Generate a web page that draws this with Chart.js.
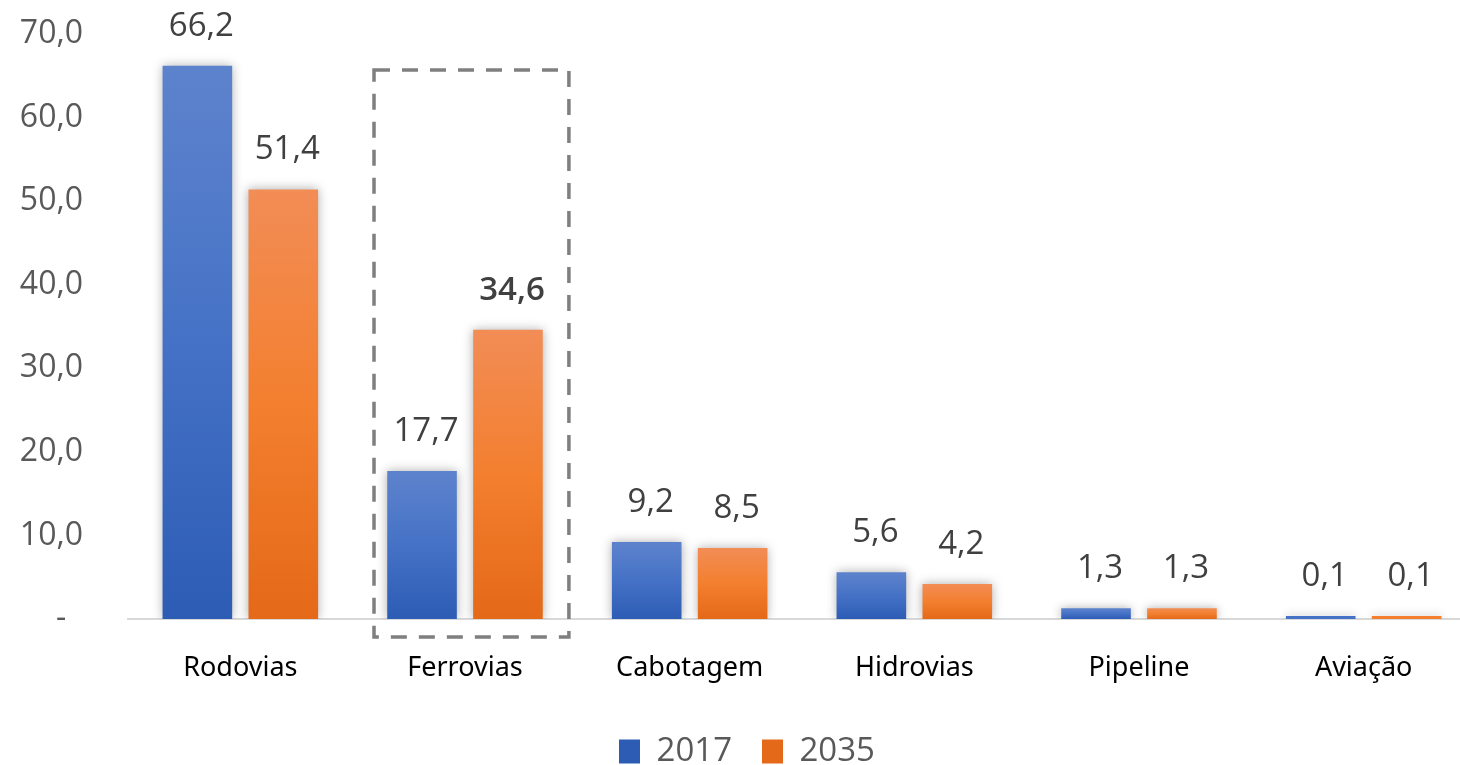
<!DOCTYPE html>
<html>
<head>
<meta charset="utf-8">
<script src="https://cdn.jsdelivr.net/npm/chart.js@4/dist/chart.umd.min.js"></script>
<style>
  html, body { margin: 0; padding: 0; background: #fff; overflow: hidden; }
  #wrap { position: absolute; left: 0; top: 0; width: 1480px; height: 778px; }
</style>
</head>
<body>
<div id="wrap"><canvas id="chart"></canvas></div>
<script>
const categories = ['Rodovias', 'Ferrovias', 'Cabotagem', 'Hidrovias', 'Pipeline', 'Aviação'];
const seriesNames = ['2017', '2035'];
const values2017 = [66.2, 17.7, 9.2, 5.6, 1.3, 0.1];
const values2035 = [51.4, 34.6, 8.5, 4.2, 1.3, 0.1];
const yMin = 0, yMax = 70, yStep = 10;
// rotulo em destaque (34,6) e categoria com a caixa tracejada
const boldPoint = { dataset: 1, index: 1 };
const highlightCategory = 'Ferrovias';
const highlightTop = 65.7;

Chart.defaults.font.family = '"Open Sans", sans-serif';

function barGradient(top, mid, bottom) {
    return (c) => {
        const chart = c.chart;
        if (!chart.chartArea || c.raw == null) return mid;
        const y = chart.scales.y;
        const y0 = y.getPixelForValue(0);
        const y1 = y.getPixelForValue(c.raw);
        if (y0 - y1 < 2) return mid;
        const g = chart.ctx.createLinearGradient(0, y1, 0, y0);
        g.addColorStop(0, top);
        g.addColorStop(0.5, mid);
        g.addColorStop(1, bottom);
        return g;
    };
}

// sombra suave em volta das barras
const barShadow = {
    id: 'barShadow',
    beforeDatasetDraw(chart) {
        const ctx = chart.ctx;
        ctx.save();
        ctx.shadowColor = 'rgba(0,0,0,0.32)';
        ctx.shadowBlur = 10;
    },
    afterDatasetDraw(chart) {
        chart.ctx.restore();
    }
};

// valores acima das barras
const valueLabels = {
    id: 'valueLabels',
    afterDatasetsDraw(chart) {
        const ctx = chart.ctx;
        ctx.save();
        ctx.textAlign = 'center';
        ctx.textBaseline = 'alphabetic';
        chart.data.datasets.forEach((ds, di) => {
            chart.getDatasetMeta(di).data.forEach((bar, i) => {
                const bold = di === boldPoint.dataset && i === boldPoint.index;
                ctx.font = (bold ? '600 ' : '') + '33px "Open Sans", sans-serif';
                ctx.fillStyle = '#404040';
                const txt = ds.data[i].toFixed(1).replace('.', ',');
                ctx.fillText(txt, bar.x + 4, bar.y - 30);
            });
        });
        ctx.restore();
    }
};

// caixa tracejada em volta de Ferrovias
const highlightBox = {
    id: 'highlightBox',
    afterDatasetsDraw(chart) {
        const x = chart.scales.x, y = chart.scales.y;
        const idx = categories.indexOf(highlightCategory);
        const cx = x.getPixelForValue(idx);
        const half = x.width / categories.length / 2;
        const left = cx - 0.81 * half;
        const right = cx + 0.925 * half;
        const top = y.getPixelForValue(highlightTop);
        const bottom = y.getPixelForValue(0) + 18;
        const ctx = chart.ctx;
        ctx.save();
        ctx.strokeStyle = '#7f7f7f';
        ctx.lineWidth = 3.5;
        ctx.setLineDash([16, 12]);
        ctx.strokeRect(left, top, right - left, bottom - top);
        ctx.restore();
    }
};

const ctx = document.getElementById('chart').getContext('2d');
new Chart(ctx, {
    type: 'bar',
    data: {
        labels: categories,
        datasets: [
            {
                label: seriesNames[0],
                data: values2017,
                backgroundColor: barGradient('#5e83cd', '#4572c6', '#2d5cb5'),
                borderWidth: 0,
                minBarLength: 3
            },
            {
                label: seriesNames[1],
                data: values2035,
                backgroundColor: barGradient('#f28d56', '#f37f2f', '#e46918'),
                borderWidth: 0,
                minBarLength: 3
            }
        ]
    },
    options: {
        responsive: true,
        maintainAspectRatio: false,
        animation: false,
        categoryPercentage: 0.765,
        barPercentage: 0.81,
        layout: { padding: { left: 18, right: 4, top: 34, bottom: 0 } },
        scales: {
            x: {
                grid: { display: false, drawTicks: false },
                border: { display: true, color: '#d9d9d9', width: 2 },
                ticks: {
                    padding: 33,
                    color: '#000',
                    font: { size: 27, family: '"Noto Sans", sans-serif' }
                },
                afterFit(scale) { scale.height = 86; }
            },
            y: {
                min: yMin,
                max: yMax,
                grid: { display: false, drawTicks: false },
                border: { display: false },
                ticks: {
                    stepSize: yStep,
                    padding: 45,
                    color: '#595959',
                    font: { size: 32 },
                    callback: (v) => v === 0 ? '-  ' : v.toFixed(1).replace('.', ',')
                },
                afterFit(scale) {
                    scale.width = 110;
                    scale.paddingTop = 19;
                    scale.paddingBottom = 19;
                }
            }
        },
        plugins: {
            legend: {
                position: 'bottom',
                labels: {
                    boxWidth: 21,
                    boxHeight: 24,
                    padding: 30,
                    color: '#595959',
                    font: { size: 33 }
                }
            },
            tooltip: { enabled: false }
        }
    },
    plugins: [barShadow, valueLabels, highlightBox]
});
</script>
</body>
</html>
